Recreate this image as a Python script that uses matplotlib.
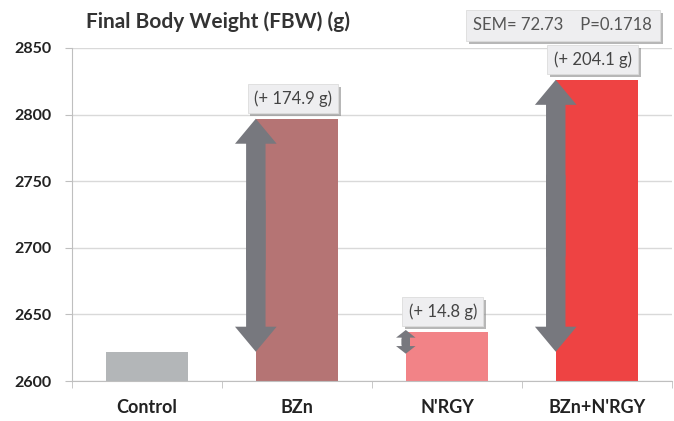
import matplotlib
matplotlib.use("Agg")
import matplotlib.pyplot as plt
import matplotlib.patheffects as pe

plt.rcParams['font.family'] = ['Lato', 'DejaVu Sans']

categories = ["Control", "BZn", "N'RGY", "BZn+N'RGY"]
values = [2622.0, 2796.9, 2636.8, 2826.1]
gain_labels = [None, "(+ 174.9 g)", "(+ 14.8 g)", "(+ 204.1 g)"]
colors = ["#b3b6b8", "#b57474", "#f28387", "#ee4343"]
yticks = [2600, 2650, 2700, 2750, 2800, 2850]
title = "Final Body Weight (FBW) (g)"
stats_text = "SEM= 72.73    P=0.1718"

fig = plt.figure(figsize=(6.74, 4.21), dpi=100)
ax = fig.add_axes([0.107, 0.095, 0.890, 0.791])

x = list(range(len(categories)))
bw = 0.55
ax.bar(x, values, width=bw, color=colors, zorder=2)

ax.set_ylim(2600, 2850)
ax.set_xlim(-0.5, len(categories) - 0.5)
ax.set_yticks(yticks)
ax.set_yticklabels([str(v) for v in yticks], fontsize=11.5, fontweight='bold', color='#222222')
ax.yaxis.grid(True, color='#d9d9d9', linewidth=1, zorder=0)
ax.set_axisbelow(True)
ax.tick_params(axis='y', length=5, color='#bfbfbf', pad=10)
ax.set_xticks(x)
ax.set_xticklabels(categories, fontsize=13, fontweight='bold', color='#222222')
ax.set_xticks([i + 0.5 for i in range(-1, len(categories))], minor=True)
ax.tick_params(axis='x', which='major', length=0, pad=13)
ax.tick_params(axis='x', which='minor', length=5, color='#bfbfbf')
for s in ['top', 'right']:
    ax.spines[s].set_visible(False)
ax.spines['left'].set_color('#bfbfbf')
ax.spines['bottom'].set_color('#bfbfbf')

arrow_color = '#77787e'
base = values[0]
for i in range(1, len(categories)):
    xa = i - bw / 2
    top = values[i]
    span = top - base
    mid = (base + top) / 2
    big = span > 50
    if big:
        style = "simple,head_width=30,head_length=18,tail_width=14"
        ext = 0
    else:
        style = "simple,head_width=14,head_length=5.5,tail_width=6"
        ext = 1.5
    ov = 0.15 * span
    ax.annotate("", xy=(xa, top + ext), xytext=(xa, mid - ov),
                arrowprops=dict(arrowstyle=style, mutation_scale=1,
                                color=arrow_color, shrinkA=0, shrinkB=0, lw=0),
                zorder=3)
    ax.annotate("", xy=(xa, base - ext), xytext=(xa, mid + ov),
                arrowprops=dict(arrowstyle=style, mutation_scale=1,
                                color=arrow_color, shrinkA=0, shrinkB=0, lw=0),
                zorder=3)
    t = ax.annotate(gain_labels[i], xy=(i, top), xytext=(-3, 14.5),
                    textcoords='offset points', ha='center', va='center',
                    fontsize=12, color='#444444', zorder=5,
                    bbox=dict(boxstyle='square,pad=0.38', fc='#eeeef0', ec='#dcdcdc', lw=0.6))
    t.get_bbox_patch().set_path_effects([pe.withSimplePatchShadow(offset=(2, -2), shadow_rgbFace='#888888', alpha=0.6)])

fig.text(0.323, 0.948, title, ha='center', va='center', fontsize=15, fontweight='bold', color='#333333')
st = fig.text(0.835, 0.94, stats_text, ha='center', va='center', fontsize=12, color='#555555',
              bbox=dict(boxstyle='square,pad=0.45', fc='#eeeef0', ec='#dcdcdc', lw=0.6))
st.get_bbox_patch().set_path_effects([pe.withSimplePatchShadow(offset=(2, -2), shadow_rgbFace='#888888', alpha=0.6)])

fig.savefig("out.png", dpi=100)
